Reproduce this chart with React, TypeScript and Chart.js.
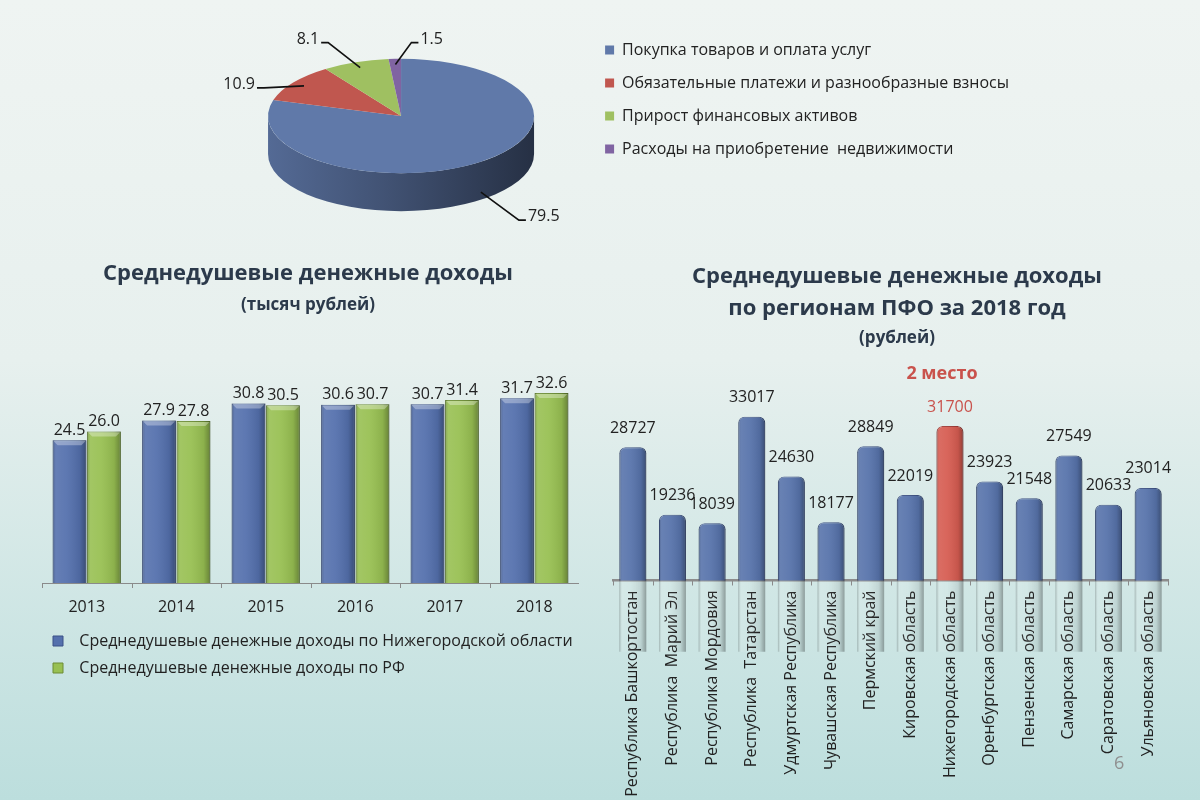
import React, { useEffect, useRef } from "react";
import { Chart, registerables } from "chart.js";

Chart.register(...registerables);

const FONT = "'Open Sans', 'Noto Sans', sans-serif";

// ---------- DATA ----------
const pieLabels = [
  "Покупка товаров и оплата услуг",
  "Обязательные платежи и разнообразные взносы",
  "Прирост финансовых активов",
  "Расходы на приобретение  недвижимости",
];
const pieValues = [79.5, 10.9, 8.1, 1.5];

const years = ["2013", "2014", "2015", "2016", "2017", "2018"];
const nizhnyIncome = [24.5, 27.9, 30.8, 30.6, 30.7, 31.7];
const rfIncome = [26.0, 27.8, 30.5, 30.7, 31.4, 32.6];
const seriesNames = [
  "Среднедушевые денежные доходы по Нижегородской области",
  "Среднедушевые денежные доходы по РФ",
];

const regions = [
  "Республика Башкортостан",
  "Республика  Марий Эл",
  "Республика Мордовия",
  "Республика  Татарстан",
  "Удмуртская Республика",
  "Чувашская Республика",
  "Пермский край",
  "Кировская область",
  "Нижегородская область",
  "Оренбургская область",
  "Пензенская область",
  "Самарская область",
  "Саратовская область",
  "Ульяновская область",
];
const regionIncome = [28727, 19236, 18039, 33017, 24630, 18177, 28849, 22019, 31700, 23923, 21548, 27549, 20633, 23014];
const highlightRegion = "Нижегородская область";
const highlightNote = "2 место";

// ---------- STYLE ----------
const pieColors = ["#6079a9", "#c0574f", "#9fc061", "#8064a2"];
const pieLabelOffsets = [
  [38, 28],
  [-40, 2],
  [-32, -25],
  [16, -22],
];
const TITLE_COLOR = "#2c3a4b";
const TEXT_COLOR = "#222222";
const RED = "#c9524c";
const PIE_CENTER_X = 400;
const PIE_LEGEND_BOX_X = 603;
const PIE_LEGEND_FONT = 16;
const PIE_LEGEND_PAD = 17;
const PIE_LEGEND_BOX = 9;

function shade(hex: string, f: number) {
  const n = parseInt(hex.slice(1), 16);
  const r = Math.round(((n >> 16) & 255) * f);
  const g = Math.round(((n >> 8) & 255) * f);
  const b = Math.round((n & 255) * f);
  return `rgb(${r},${g},${b})`;
}

// ---------- PLUGINS ----------
function pieGeom(chart: any, opts: any) {
  const arcs = chart.getDatasetMeta(0).data;
  const p0 = arcs[0].getProps(["x", "y", "outerRadius"], true);
  return { arcs, ox: p0.x, cx: p0.x + (opts.dx || 0), cy: p0.y, r: p0.outerRadius };
}

const pie3dPlugin = {
  id: "pie3d",
  beforeDatasetsDraw(chart: any, _args: any, opts: any) {
    if (!chart.getDatasetMeta(0).data.length) return false;
    const { arcs, ox, cx, cy, r } = pieGeom(chart, opts);
    const ctx = chart.ctx;
    const k = opts.tilt, depth = opts.depth;
    const ry = r * k;
    ctx.save();
    arcs.forEach((arc: any, i: number) => {
      const { startAngle, endAngle } = arc.getProps(["startAngle", "endAngle"], true);
      for (let n = -1; n <= 1; n++) {
        const lo = Math.max(startAngle, n * 2 * Math.PI);
        const hi = Math.min(endAngle, n * 2 * Math.PI + Math.PI);
        if (hi <= lo) continue;
        ctx.beginPath();
        ctx.ellipse(cx, cy, r, ry, 0, lo, hi, false);
        ctx.lineTo(cx + r * Math.cos(hi), cy + ry * Math.sin(hi) + depth);
        ctx.ellipse(cx, cy + depth, r, ry, 0, hi, lo, true);
        ctx.closePath();
        const base = pieColors[i % pieColors.length];
        const g = ctx.createLinearGradient(cx - r, 0, cx + r, 0);
        g.addColorStop(0, shade(base, 0.88));
        g.addColorStop(0.45, shade(base, 0.68));
        g.addColorStop(1, shade(base, 0.4));
        ctx.fillStyle = g;
        ctx.fill();
      }
    });
    ctx.translate(cx - ox, cy);
    ctx.scale(1, k);
    ctx.translate(0, -cy);
    arcs.forEach((arc: any) => arc.draw(ctx));
    ctx.restore();
    return false;
  },
  afterDraw(chart: any, _args: any, opts: any) {
    if (!chart.getDatasetMeta(0).data.length) return;
    const { arcs, cx, cy, r } = pieGeom(chart, opts);
    const ctx = chart.ctx;
    const ry = r * opts.tilt;
    const values = chart.data.datasets[0].data;
    ctx.save();
    ctx.font = `16px ${FONT}`;
    ctx.strokeStyle = "#111";
    ctx.fillStyle = TEXT_COLOR;
    ctx.lineWidth = 1.6;
    ctx.textBaseline = "alphabetic";
    arcs.forEach((arc: any, i: number) => {
      const { startAngle, endAngle } = arc.getProps(["startAngle", "endAngle"], true);
      const mid = (startAngle + endAngle) / 2;
      const s = Math.sin(mid);
      let ax: number, ay: number;
      if (s > 0.3) {
        ax = cx + r * Math.cos(mid);
        ay = cy + ry * s + opts.depth * 0.8;
      } else {
        ax = cx + 0.9 * r * Math.cos(mid);
        ay = cy + 0.9 * ry * s;
      }
      const [dx, dy] = pieLabelOffsets[i];
      const ex = ax + dx, ey = ay + dy;
      const dir = dx >= 0 ? 1 : -1;
      ctx.beginPath();
      ctx.moveTo(ax, ay);
      ctx.lineTo(ex, ey);
      ctx.lineTo(ex + dir * 7, ey);
      ctx.stroke();
      ctx.textAlign = dir > 0 ? "left" : "right";
      ctx.fillText(Number(values[i]).toFixed(1), ex + dir * 9, ey + 1);
    });
    ctx.restore();
  },
};

const barShadePlugin = {
  id: "barShade",
  afterDatasetsDraw(chart: any, _args: any, opts: any) {
    const ctx = chart.ctx;
    ctx.save();
    chart.data.datasets.forEach((_ds: any, di: number) => {
      const meta = chart.getDatasetMeta(di);
      meta.data.forEach((el: any) => {
        const { x, y, base, width } = el.getProps(["x", "y", "base", "width"], true);
        const l = x - width / 2;
        const h = base - y;
        const rad = opts.radius || 0;
        const g = ctx.createLinearGradient(l, 0, l + width, 0);
        g.addColorStop(0, "rgba(0,0,0,0.22)");
        g.addColorStop(0.1, "rgba(255,255,255,0.10)");
        g.addColorStop(0.4, "rgba(255,255,255,0.06)");
        g.addColorStop(0.8, "rgba(0,0,0,0.08)");
        g.addColorStop(1, "rgba(0,0,0,0.32)");
        ctx.fillStyle = g;
        ctx.beginPath();
        if (rad) ctx.roundRect(l, y, width, h, [rad, rad, 0, 0]);
        else ctx.rect(l, y, width, h);
        ctx.fill();
        if (opts.bevel) {
          const b = opts.bevel;
          ctx.fillStyle = "rgba(255,255,255,0.32)";
          ctx.beginPath();
          ctx.moveTo(l + 1, y + 1);
          ctx.lineTo(l + width - 1, y + 1);
          ctx.lineTo(l + width - b, y + b);
          ctx.lineTo(l + b, y + b);
          ctx.closePath();
          ctx.fill();
        }
      });
    });
    ctx.restore();
  },
};

const axisTicksPlugin = {
  id: "axisTicks",
  afterDraw(chart: any, _args: any, opts: any) {
    const s = chart.scales.x;
    const n = chart.data.labels.length;
    const step = (s.right - s.left) / n;
    const tickLen = Number(opts.tickLen) || 5;
    const ctx = chart.ctx;
    ctx.save();
    ctx.strokeStyle = opts.color;
    ctx.lineWidth = 1;
    ctx.beginPath();
    for (let i = 0; i <= n; i++) {
      const x = Math.round(s.left + i * step) + 0.5;
      ctx.moveTo(x, s.top);
      ctx.lineTo(x, s.top + tickLen);
    }
    ctx.stroke();
    ctx.restore();
  },
};

const barValuePlugin = {
  id: "barValues",
  afterDatasetsDraw(chart: any, _args: any, opts: any) {
    const ctx = chart.ctx;
    ctx.save();
    ctx.textAlign = "center";
    ctx.textBaseline = "middle";
    chart.data.datasets.forEach((ds: any, di: number) => {
      const meta = chart.getDatasetMeta(di);
      meta.data.forEach((el: any, i: number) => {
        const { x, y } = el.getProps(["x", "y"], true);
        const v = Number(ds.data[i]);
        const hi = opts.highlightIndex === i;
        ctx.font = `${opts.size}px ${FONT}`;
        ctx.fillStyle = hi ? RED : TEXT_COLOR;
        ctx.fillText(v.toFixed(opts.decimals), x, y - opts.gap);
        if (hi && opts.note) {
          ctx.font = `bold 18px ${FONT}`;
          ctx.fillText(opts.note, x - 8, y - opts.gap - 33);
        }
      });
    });
    ctx.restore();
  },
};

// ---------- CHARTS ----------
function PieChart() {
  const ref = useRef<HTMLCanvasElement>(null);
  useEffect(() => {
    const canvas = ref.current as HTMLCanvasElement;
    const mctx = document.createElement("canvas").getContext("2d") as CanvasRenderingContext2D;
    mctx.font = `normal ${PIE_LEGEND_FONT}px ${FONT}`;
    const maxText = Math.max(...pieLabels.map((t) => mctx.measureText(t).width));
    const legendWidth = Math.ceil(PIE_LEGEND_PAD + PIE_LEGEND_BOX + PIE_LEGEND_FONT / 2 + maxText + 10);
    const legendLeft = PIE_LEGEND_BOX_X - PIE_LEGEND_PAD;
    const padRight = Math.max(0, canvas.width - legendLeft - legendWidth - 2);
    const padLeft = Math.max(0, legendLeft - legendWidth - 12);
    const dx = PIE_CENTER_X - (padLeft + legendLeft) / 2;
    const chart = new Chart(canvas, {
      type: "pie",
      data: {
        labels: pieLabels,
        datasets: [
          {
            data: pieValues,
            backgroundColor: pieColors,
            borderWidth: 0,
            radius: 133,
          } as any,
        ],
      },
      options: {
        responsive: false,
        animation: false,
        layout: { padding: { left: padLeft, right: padRight, top: 25, bottom: 33 } },
        plugins: {
          legend: {
            position: "right",
            align: "start",
            labels: {
              boxWidth: PIE_LEGEND_BOX,
              boxHeight: PIE_LEGEND_BOX,
              padding: PIE_LEGEND_PAD,
              color: TEXT_COLOR,
              font: { family: FONT, size: PIE_LEGEND_FONT },
            },
          } as any,
          tooltip: { enabled: false },
          pie3d: { tilt: 0.43, depth: 38, dx },
        } as any,
      },
      plugins: [pie3dPlugin],
    });
    return () => chart.destroy();
  }, []);
  return (
    <canvas
      ref={ref}
      width={1200}
      height={240}
      style={{ position: "absolute", left: 0, top: 0, width: 1200, height: 240 }}
    />
  );
}

function YearsChart() {
  const ref = useRef<HTMLCanvasElement>(null);
  useEffect(() => {
    const chart = new Chart(ref.current as HTMLCanvasElement, {
      type: "bar",
      data: {
        labels: years,
        datasets: [
          {
            label: seriesNames[0],
            data: nizhnyIncome,
            backgroundColor: "#5470ad",
            borderColor: "#3b5187",
            borderWidth: 1,
            categoryPercentage: 0.77,
            barPercentage: 0.98,
          },
          {
            label: seriesNames[1],
            data: rfIncome,
            backgroundColor: "#98c052",
            borderColor: "#6c8c35",
            borderWidth: 1,
            categoryPercentage: 0.77,
            barPercentage: 0.98,
          },
        ],
      },
      options: {
        responsive: false,
        animation: false,
        layout: { padding: { left: 37, right: 0, top: 0, bottom: 0 } },
        scales: {
          x: {
            grid: { display: false },
            border: { display: true, color: "#8a8a8a", width: 1 },
            ticks: { color: TEXT_COLOR, font: { family: FONT, size: 16 }, padding: 7 },
            afterFit: (s: any) => {
              s.height = 39;
            },
          },
          y: {
            min: 0,
            max: 40,
            ticks: { display: false },
            grid: { display: false },
            border: { display: false },
            afterFit: (s: any) => {
              s.width = 5;
            },
          },
        },
        plugins: {
          title: {
            display: true,
            text: "Среднедушевые денежные доходы",
            color: TITLE_COLOR,
            font: { family: FONT, size: 22, weight: "bold", lineHeight: 1.2 },
            padding: { top: 6, bottom: 4 },
          },
          subtitle: {
            display: true,
            text: "(тысяч рублей)",
            color: TITLE_COLOR,
            font: { family: FONT, size: 17, weight: "bold", lineHeight: 1.2 },
            padding: { top: 4, bottom: 34.2 },
          },
          legend: {
            position: "bottom",
            align: "start",
            fullSize: false,
            labels: {
              boxWidth: 10,
              boxHeight: 10,
              padding: 11,
              color: TEXT_COLOR,
              font: { family: FONT, size: 16 },
              generateLabels: (chart: any) =>
                Chart.defaults.plugins.legend.labels
                  .generateLabels(chart)
                  .map((l: any) => ({ ...l, text: "  " + l.text })),
            },
          },
          tooltip: { enabled: false },
          barShade: { bevel: 5, radius: 0 },
          axisTicks: { color: "#8a8a8a", tickLen: 5 },
          barValues: { size: 16, gap: 10, decimals: 1, highlightIndex: -1 },
        } as any,
      },
      plugins: [barShadePlugin, barValuePlugin, axisTicksPlugin],
    });
    return () => chart.destroy();
  }, []);
  return (
    <canvas
      ref={ref}
      width={579}
      height={431}
      style={{ position: "absolute", left: 0, top: 255, width: 579, height: 431 }}
    />
  );
}

function RegionsChart() {
  const ref = useRef<HTMLCanvasElement>(null);
  useEffect(() => {
    const hiIdx = regions.indexOf(highlightRegion);
    const chart = new Chart(ref.current as HTMLCanvasElement, {
      type: "bar",
      data: {
        labels: regions,
        datasets: [
          {
            label: "2018",
            data: regionIncome,
            backgroundColor: regions.map((r) => (r === highlightRegion ? "#d65c51" : "#5773ab")),
            borderColor: regions.map((r) => (r === highlightRegion ? "#9e3a35" : "#3d5183")),
            borderWidth: 1,
            borderRadius: { topLeft: 6, topRight: 6, bottomLeft: 0, bottomRight: 0 },
            borderSkipped: "bottom",
            categoryPercentage: 1,
            barPercentage: 0.68,
          },
        ],
      },
      options: {
        responsive: false,
        animation: false,
        layout: { padding: { left: 13, right: 0, top: 0, bottom: 0 } },
        scales: {
          x: {
            grid: { display: false },
            border: { display: true, color: "#8c8c8c", width: 2.5 },
            ticks: {
              autoSkip: false,
              minRotation: 90,
              maxRotation: 90,
              color: TEXT_COLOR,
              font: { family: FONT, size: 16 },
              padding: 2,
            },
            afterFit: (s: any) => {
              s.height = 219.5;
            },
          },
          y: {
            position: "right",
            min: 10000,
            max: 40000,
            ticks: { display: false },
            grid: { display: false },
            border: { display: false },
            afterFit: (s: any) => {
              s.width = 13;
            },
          },
        },
        plugins: {
          title: {
            display: true,
            text: ["Среднедушевые денежные доходы", "по регионам ПФО за 2018 год"],
            color: TITLE_COLOR,
            font: { family: FONT, size: 22, weight: "bold", lineHeight: 1.4545 },
            padding: { top: 6, bottom: 3 },
          },
          subtitle: {
            display: true,
            text: "(рублей)",
            color: TITLE_COLOR,
            font: { family: FONT, size: 17, weight: "bold", lineHeight: 1.2 },
            padding: { top: 0, bottom: 18.6 },
          },
          legend: { display: false },
          tooltip: { enabled: false },
          barShade: { bevel: 0, radius: 6 },
          axisTicks: { color: "#8a8a8a", tickLen: 5 },
          barValues: { size: 16, gap: 19, decimals: 0, highlightIndex: hiIdx, note: highlightNote },
        } as any,
      },
      plugins: [barShadePlugin, barValuePlugin, axisTicksPlugin],
    });
    return () => chart.destroy();
  }, []);
  return (
    <canvas
      ref={ref}
      width={581}
      height={545}
      style={{ position: "absolute", left: 600, top: 255, width: 581, height: 545 }}
    />
  );
}

export default function App() {
  return (
    <div
      style={{
        position: "fixed",
        left: 0,
        top: 0,
        width: 1200,
        height: 800,
        overflow: "hidden",
        background: "linear-gradient(to bottom, #eff4f2 0%, #e7f0ee 45%, #bcdedd 100%)",
        fontFamily: FONT,
      }}
    >
      <PieChart />
      <YearsChart />
      <RegionsChart />
      <div
        style={{
          position: "absolute",
          left: 1114,
          top: 750,
          fontSize: 18,
          color: "#8f8f8f",
          fontFamily: FONT,
        }}
      >
        6
      </div>
    </div>
  );
}
